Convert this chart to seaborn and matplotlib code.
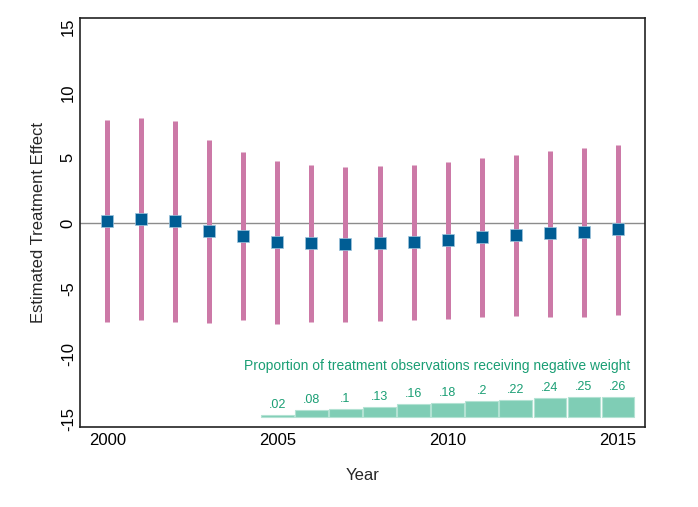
import numpy as np
import pandas as pd
import seaborn as sns
import matplotlib
matplotlib.use("Agg")
import matplotlib.pyplot as plt

years = list(range(2000, 2016))
estimates = [0.15, 0.33, 0.13, -0.61, -0.99, -1.45, -1.50, -1.60, -1.55, -1.45, -1.30, -1.07, -0.92, -0.79, -0.69, -0.48]
ci_upper = [7.86, 8.04, 7.79, 6.39, 5.45, 4.73, 4.48, 4.33, 4.38, 4.48, 4.70, 4.99, 5.22, 5.52, 5.75, 6.00]
ci_lower = [-7.56, -7.40, -7.56, -7.66, -7.40, -7.68, -7.53, -7.58, -7.48, -7.40, -7.33, -7.18, -7.10, -7.15, -7.15, -7.00]

neg_years = list(range(2005, 2016))
neg_share = [0.02, 0.08, 0.10, 0.13, 0.16, 0.18, 0.20, 0.22, 0.24, 0.25, 0.26]
neg_labels = [".02", ".08", ".1", ".13", ".16", ".18", ".2", ".22", ".24", ".25", ".26"]

sns.set_theme(style="white")
plt.rcParams['font.family'] = ['Liberation Sans', 'DejaVu Sans']

df = pd.DataFrame({"year": years, "est": estimates, "lo": ci_lower, "hi": ci_upper})

fig = plt.figure(figsize=(6.98, 5.07), dpi=100)
ax = fig.add_axes([80/698, 1-427/507, (645-80)/698, (427-18)/507])

ax.axhline(0, color="#8c8c8c", lw=1, zorder=1)
ax.vlines(df["year"], df["lo"], df["hi"], color="#cc79a7", lw=3.6, zorder=2)
sns.scatterplot(data=df, x="year", y="est", marker="s", s=70, color="#005d94",
                edgecolor="#9fc4dc", linewidth=0.5, ax=ax, zorder=3)

base = -14.8
scale = 5.9
heights = [v * scale for v in neg_share]
ax.bar(neg_years, heights, bottom=base, width=0.95, color="#7fcdb5",
       edgecolor="#b3e2d3", linewidth=0.8, zorder=2)
for x, h, lab in zip(neg_years, heights, neg_labels):
    ax.text(x, base + h + 0.3, lab, ha="center", va="bottom", fontsize=9, color="#1a9e74")
ax.text(2009.7, -10.9, "Proportion of treatment observations receiving negative weight",
        ha="center", va="center", fontsize=10, color="#1a9e74")

ax.set_xlim(1999.2, 2015.8)
ax.set_ylim(-15.6, 15.7)
ax.set_xticks([2000, 2005, 2010, 2015])
ax.set_yticks([-15, -10, -5, 0, 5, 10, 15])
ax.set_yticklabels(["-15", "-10", "-5", "0", "5", "10", "15"], rotation=90, va="center")
ax.tick_params(axis="both", labelsize=12, length=0, colors="black")
ax.tick_params(axis="y", pad=3)
ax.tick_params(axis="x", pad=4)
ax.set_xlabel("Year", fontsize=12, labelpad=15)
ax.set_ylabel("Estimated Treatment Effect", fontsize=12, labelpad=11)
for s in ax.spines.values():
    s.set_color("#222222")
    s.set_linewidth(1.2)

fig.savefig("out.png", dpi=100)
